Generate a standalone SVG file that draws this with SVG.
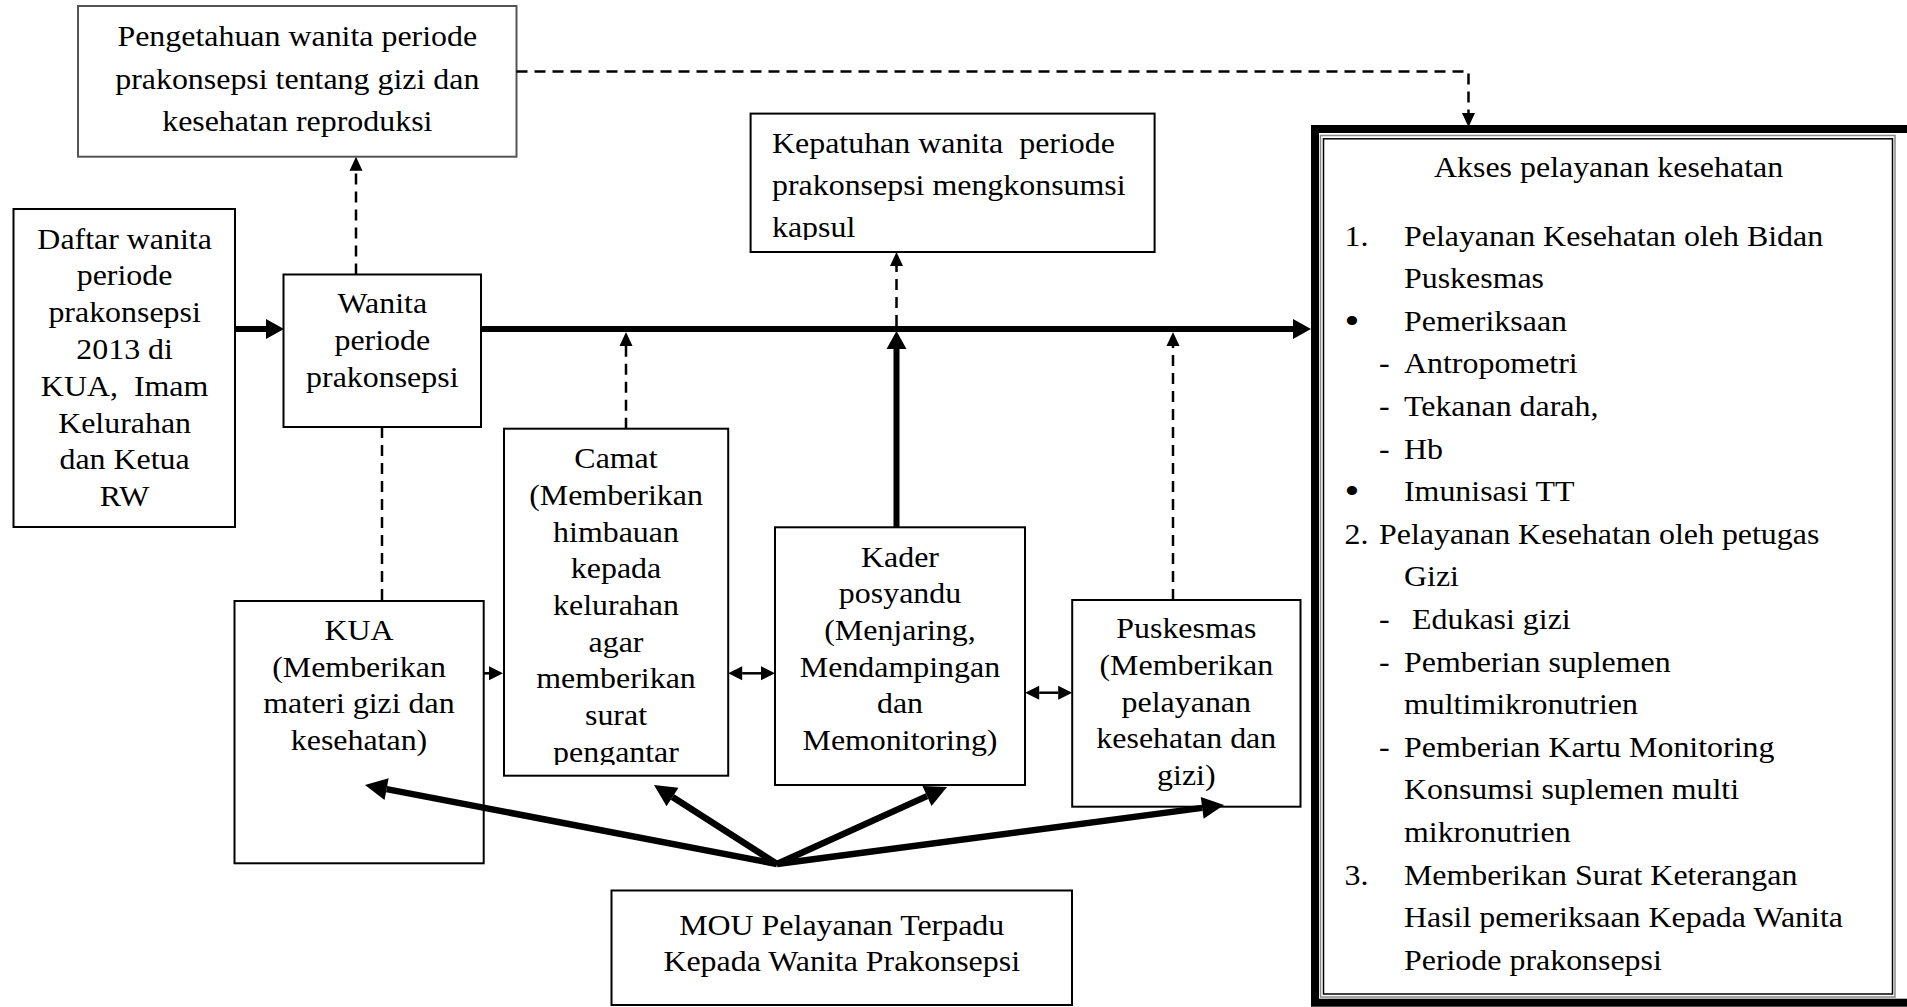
<svg xmlns="http://www.w3.org/2000/svg" width="1907" height="1007" viewBox="0 0 1907 1007">
<style>
.t{font-family:"Liberation Serif","Times New Roman",serif;font-size:28.5px;fill:#000;white-space:pre}
.c{text-anchor:middle}
.bul{font-size:38px}
.box{fill:#fff;stroke:#000;stroke-width:2}
.gray{stroke:#555}
.thick{stroke:#000;stroke-width:6;fill:none}
.mou{stroke:#000;stroke-width:6.5;fill:none}
.dash{stroke:#000;stroke-width:2.5;stroke-dasharray:11 7;fill:none}
.thin{stroke:#000;stroke-width:2.5;fill:none}
</style>
<defs>
<marker id="hThick" markerUnits="userSpaceOnUse" markerWidth="18" markerHeight="20" refX="0" refY="10" orient="auto" overflow="visible"><path d="M0,0 L18,10 L0,20 z" fill="#000" stroke="none"/></marker>
<marker id="hMou" markerUnits="userSpaceOnUse" markerWidth="22" markerHeight="22" refX="0" refY="11" orient="auto" overflow="visible"><path d="M0,0 L22,11 L0,22 z" fill="#000" stroke="none"/></marker>
<marker id="hDash" markerUnits="userSpaceOnUse" markerWidth="14" markerHeight="13" refX="0" refY="6.5" orient="auto" overflow="visible"><path d="M0,0 L14,6.5 L0,13 z" fill="#000" stroke="none"/></marker>
<marker id="hSmall" markerUnits="userSpaceOnUse" markerWidth="14" markerHeight="14" refX="0" refY="7" orient="auto-start-reverse" overflow="visible"><path d="M0,0 L14,7 L0,14 z" fill="#000" stroke="none"/></marker>
<clipPath id="clipKep"><rect x="750" y="113" width="405" height="127"/></clipPath>
<clipPath id="clipCamat"><rect x="504" y="428" width="224" height="337"/></clipPath>
</defs>
<rect x="0" y="0" width="1907" height="1007" fill="#fff"/>

<g id="pengetahuan">
<rect class="box gray" x="78" y="6" width="438.5" height="150.7"/>
<g transform="translate(297.3,0) scale(1.12,1)">
<text class="t c" x="0" y="46.5">Pengetahuan wanita periode</text>
<text class="t c" x="0" y="88.8">prakonsepsi tentang gizi dan</text>
<text class="t c" x="0" y="130.9">kesehatan reproduksi</text>
</g>
</g>

<g id="daftar">
<rect class="box" x="13.5" y="209" width="221.5" height="318"/>
<g transform="translate(124.6,0) scale(1.12,1)">
<text class="t c" x="0" y="248.6">Daftar wanita</text>
<text class="t c" x="0" y="285.4">periode</text>
<text class="t c" x="0" y="322.2">prakonsepsi</text>
<text class="t c" x="0" y="359">2013 di</text>
<text class="t c" x="0" y="395.8">KUA,  Imam</text>
<text class="t c" x="0" y="432.6">Kelurahan</text>
<text class="t c" x="0" y="469.4">dan Ketua</text>
<text class="t c" x="0" y="506.2">RW</text>
</g>
</g>

<g id="wanita">
<rect class="box" x="283.5" y="274.5" width="197.5" height="152.5"/>
<g transform="translate(382.3,0) scale(1.12,1)">
<text class="t c" x="0" y="313.4">Wanita</text>
<text class="t c" x="0" y="350.5">periode</text>
<text class="t c" x="0" y="387.4">prakonsepsi</text>
</g>
</g>

<g id="kepatuhan">
<rect class="box" x="750.6" y="113.6" width="404" height="138.4"/>
<g clip-path="url(#clipKep)">
<g transform="translate(772,0) scale(1.12,1)">
<text class="t" x="0" y="153.5">Kepatuhan wanita  periode</text>
<text class="t" x="0" y="195.5">prakonsepsi mengkonsumsi</text>
<text class="t" x="0" y="237.5">kapsul</text>
</g>
</g>
</g>

<g id="camat">
<rect class="box" x="504" y="428.7" width="224.2" height="347"/>
<g clip-path="url(#clipCamat)">
<g transform="translate(616,0) scale(1.12,1)">
<text class="t c" x="0" y="468.3">Camat</text>
<text class="t c" x="0" y="505">(Memberikan</text>
<text class="t c" x="0" y="541.7">himbauan</text>
<text class="t c" x="0" y="578.3">kepada</text>
<text class="t c" x="0" y="615">kelurahan</text>
<text class="t c" x="0" y="651.7">agar</text>
<text class="t c" x="0" y="688.3">memberikan</text>
<text class="t c" x="0" y="725">surat</text>
<text class="t c" x="0" y="761.7">pengantar</text>
</g>
</g>
</g>

<g id="kua">
<rect class="box" x="234.5" y="601" width="249.2" height="262.3"/>
<g transform="translate(359,0) scale(1.12,1)">
<text class="t c" x="0" y="640">KUA</text>
<text class="t c" x="0" y="676.7">(Memberikan</text>
<text class="t c" x="0" y="713.3">materi gizi dan</text>
<text class="t c" x="0" y="750">kesehatan)</text>
</g>
</g>

<g id="kader">
<rect class="box" x="775" y="527.3" width="250" height="257.7"/>
<g transform="translate(900,0) scale(1.12,1)">
<text class="t c" x="0" y="566.7">Kader</text>
<text class="t c" x="0" y="603.3">posyandu</text>
<text class="t c" x="0" y="640">(Menjaring,</text>
<text class="t c" x="0" y="676.7">Mendampingan</text>
<text class="t c" x="0" y="713.3">dan</text>
<text class="t c" x="0" y="750">Memonitoring)</text>
</g>
</g>

<g id="puskesmas">
<rect class="box" x="1072.2" y="600" width="228.3" height="206.7"/>
<g transform="translate(1186.3,0) scale(1.12,1)">
<text class="t c" x="0" y="638.3">Puskesmas</text>
<text class="t c" x="0" y="675">(Memberikan</text>
<text class="t c" x="0" y="711.7">pelayanan</text>
<text class="t c" x="0" y="748.3">kesehatan dan</text>
<text class="t c" x="0" y="785">gizi)</text>
</g>
</g>

<g id="mou">
<rect class="box" x="611.5" y="890.5" width="460.5" height="114.5"/>
<g transform="translate(841.7,0) scale(1.12,1)">
<text class="t c" x="0" y="935">MOU Pelayanan Terpadu</text>
<text class="t c" x="0" y="971">Kepada Wanita Prakonsepsi</text>
</g>
</g>

<g id="akses">
<rect x="1315" y="129" width="1586" height="873.7" fill="#fff" stroke="#000" stroke-width="8"/>
<rect x="1320.5" y="135.5" width="574.5" height="861.5" fill="none" stroke="#888" stroke-width="1.5"/>
<rect x="1323.5" y="138.8" width="569" height="855.2" fill="none" stroke="#000" stroke-width="1.5"/>
<g transform="translate(1344.5,0) scale(1.12,1)">
<text class="t c" x="235.8" y="176.7">Akses pelayanan kesehatan</text>
<text class="t" x="0" y="245.7">1.</text>
<text class="t" x="53.1" y="245.7">Pelayanan Kesehatan oleh Bidan</text>
<text class="t" x="53.1" y="288.3">Puskesmas</text>
<text class="t bul" x="0" y="334">•</text>
<text class="t" x="53.1" y="330.9">Pemeriksaan</text>
<text class="t" x="30.8" y="373.5">-</text>
<text class="t" x="53.1" y="373.5">Antropometri</text>
<text class="t" x="30.8" y="416.1">-</text>
<text class="t" x="53.1" y="416.1">Tekanan darah,</text>
<text class="t" x="30.8" y="458.7">-</text>
<text class="t" x="53.1" y="458.7">Hb</text>
<text class="t bul" x="0" y="504.4">•</text>
<text class="t" x="53.1" y="501.3">Imunisasi TT</text>
<text class="t" x="0" y="543.9">2.</text>
<text class="t" x="30.8" y="543.9">Pelayanan Kesehatan oleh petugas</text>
<text class="t" x="53.1" y="586.5">Gizi</text>
<text class="t" x="30.8" y="629.1">-</text>
<text class="t" x="60.3" y="629.1">Edukasi gizi</text>
<text class="t" x="30.8" y="671.7">-</text>
<text class="t" x="53.1" y="671.7">Pemberian suplemen</text>
<text class="t" x="53.1" y="714.3">multimikronutrien</text>
<text class="t" x="30.8" y="756.9">-</text>
<text class="t" x="53.1" y="756.9">Pemberian Kartu Monitoring</text>
<text class="t" x="53.1" y="799.5">Konsumsi suplemen multi</text>
<text class="t" x="53.1" y="842.1">mikronutrien</text>
<text class="t" x="0" y="884.7">3.</text>
<text class="t" x="53.1" y="884.7">Memberikan Surat Keterangan</text>
<text class="t" x="53.1" y="927.3">Hasil pemeriksaan Kepada Wanita</text>
<text class="t" x="53.1" y="969.9">Periode prakonsepsi</text>
</g>
</g>

<g id="connectors">
<line class="thick" x1="235" y1="329" x2="266" y2="329" marker-end="url(#hThick)"/>
<line class="thick" x1="481" y1="329" x2="1293" y2="329" marker-end="url(#hThick)"/>
<line class="thick" x1="896.5" y1="527.3" x2="896.5" y2="349" marker-end="url(#hThick)"/>
<line class="dash" x1="356" y1="274.5" x2="356" y2="170.7" marker-end="url(#hDash)"/>
<line class="dash" x1="382" y1="427" x2="382" y2="601"/>
<line class="dash" x1="626" y1="428.7" x2="626" y2="346" marker-end="url(#hDash)"/>
<line class="dash" x1="1173" y1="600" x2="1173" y2="346" marker-end="url(#hDash)"/>
<line class="dash" x1="896.5" y1="326" x2="896.5" y2="266" marker-end="url(#hDash)"/>
<path class="dash" d="M516.5,71.5 H1468.5 V113" marker-end="url(#hDash)"/>
<line class="thin" x1="483.7" y1="673.3" x2="489" y2="673.3" marker-end="url(#hSmall)"/>
<line class="thin" x1="742.2" y1="673.3" x2="761" y2="673.3" marker-start="url(#hSmall)" marker-end="url(#hSmall)"/>
<line class="thin" x1="1039.2" y1="692.7" x2="1058.2" y2="692.7" marker-start="url(#hSmall)" marker-end="url(#hSmall)"/>
<line class="mou" x1="777" y1="864" x2="386.6" y2="789.1" marker-end="url(#hMou)"/>
<line class="mou" x1="777" y1="864" x2="672.5" y2="796.9" marker-end="url(#hMou)"/>
<line class="mou" x1="777" y1="864" x2="927" y2="796.1" marker-end="url(#hMou)"/>
<line class="mou" x1="777" y1="864" x2="1202.2" y2="807.9" marker-end="url(#hMou)"/>
</g>
</svg>
